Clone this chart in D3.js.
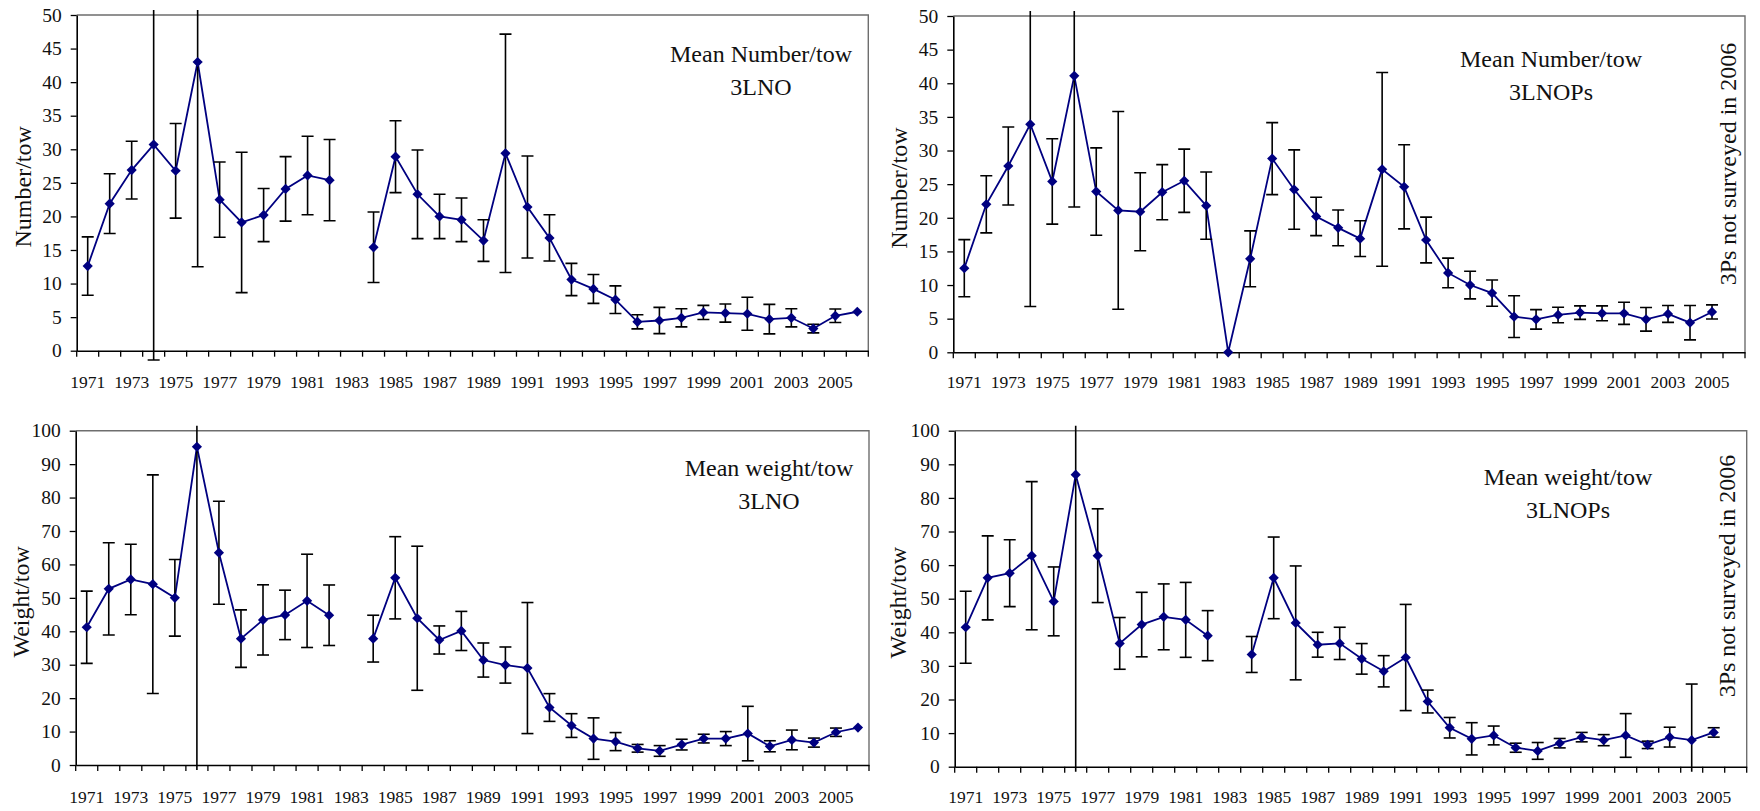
<!DOCTYPE html>
<html>
<head>
<meta charset="utf-8">
<script src="https://cdn.jsdelivr.net/npm/d3@7"></script>
<style>
body { margin: 0; background: #fff; }
</style>
</head>
<body>
<div id="chart"></div>
<script>
const years = [1971, 1972, 1973, 1974, 1975, 1976, 1977, 1978, 1979, 1980, 1981, 1982,
    1983, 1984, 1985, 1986, 1987, 1988, 1989, 1990, 1991, 1992, 1993, 1994,
    1995, 1996, 1997, 1998, 1999, 2000, 2001, 2002, 2003, 2004, 2005, 2006]

const xLabels = [1971, 1973, 1975, 1977, 1979, 1981, 1983, 1985, 1987, 1989,
    1991, 1993, 1995, 1997, 1999, 2001, 2003, 2005]

const yTicksNum = [0, 5, 10, 15, 20, 25, 30, 35, 40, 45, 50]
const yTicksWt = [0, 10, 20, 30, 40, 50, 60, 70, 80, 90, 100]

// mean number per tow, 3LNO
const numLNO = [12.6, 21.9, 26.9, 30.7, 26.8, 43.0, 22.5, 19.1, 20.2, 24.1, 26.1, 25.4,
    null, 15.4, 28.9, 23.3, 20.0, 19.5, 16.4, 29.4, 21.4, 16.8, 10.6, 9.2,
    7.6, 4.3, 4.5, 4.9, 5.7, 5.6, 5.5, 4.7, 4.9, 3.3, 5.2, 5.8]
const numLNOErr = [4.35, 4.45, 4.3, 32.1, 7.05, 30.5, 5.6, 10.45, 3.95, 4.8, 5.85, 6.05,
    null, 5.25, 5.35, 6.6, 3.3, 3.25, 3.1, 17.75, 7.6, 3.45, 2.4, 2.15,
    2.05, 1.05, 1.95, 1.35, 1.05, 1.35, 2.45, 2.2, 1.35, 0.65, 1.0, 0]

// mean number per tow, 3LNOPs
const numLNOPs = [12.5, 22.0, 27.7, 33.9, 25.4, 41.1, 23.9, 21.1, 20.9, 23.8, 25.5, 21.8,
    0, 13.9, 28.8, 24.2, 20.2, 18.5, 16.9, 27.2, 24.6, 16.7, 11.8, 10.0,
    8.8, 5.3, 4.9, 5.55, 5.9, 5.8, 5.8, 4.9, 5.7, 4.4, 6.0, null]
const numLNOPsErr = [4.25, 4.25, 5.8, 27.1, 6.35, 19.5, 6.5, 14.7, 5.8, 4.1, 4.7, 5.0,
    0, 4.15, 5.35, 5.9, 2.85, 2.65, 2.65, 14.4, 6.25, 3.4, 2.2, 2.05,
    1.95, 3.1, 1.45, 1.15, 1.0, 1.1, 1.65, 1.75, 1.25, 2.55, 1.05, null]

// mean weight per tow, 3LNO
const wtLNO = [41.2, 52.7, 55.5, 54.1, 50.0, 95.2, 63.5, 37.8, 43.4, 44.9, 49.1, 44.8,
    null, 37.8, 56.0, 43.9, 37.4, 40.1, 31.4, 29.9, 29.0, 17.2, 11.8, 7.9,
    7.0, 5.0, 4.2, 6.1, 7.9, 7.9, 9.4, 5.6, 7.5, 6.7, 9.8, 11.2]
const wtLNOErr = [10.8, 13.8, 10.55, 32.7, 11.45, 100, 15.4, 8.6, 10.5, 7.4, 13.95, 9.05,
    null, 7.0, 12.3, 21.55, 4.2, 5.85, 5.1, 5.4, 19.6, 4.15, 3.55, 6.2,
    2.7, 1.15, 1.6, 1.6, 1.3, 2.1, 8.15, 1.65, 2.95, 1.35, 1.25, 0]

// mean weight per tow, 3LNOPs
const wtLNOPs = [41.5, 56.2, 57.6, 62.8, 49.2, 86.9, 62.8, 36.7, 42.3, 44.6, 43.7, 39.0,
    null, 33.4, 56.2, 42.8, 36.3, 36.7, 32.1, 28.4, 32.5, 19.4, 11.6, 8.3,
    9.3, 5.65, 4.7, 7.0, 8.8, 7.9, 9.3, 6.5, 8.8, 7.9, 10.2, null]
const wtLNOPsErr = [10.7, 12.5, 9.95, 22.05, 10.25, 100, 13.95, 7.7, 9.6, 9.8, 11.15, 7.45,
    null, 5.35, 12.15, 16.95, 3.7, 4.8, 4.55, 4.65, 15.8, 3.4, 3.05, 4.8,
    2.8, 1.35, 2.5, 1.4, 1.4, 1.65, 6.5, 1.1, 2.95, 16.7, 1.4, null]

const note = "3Ps not surveyed in 2006"

const width = 1760
const height = 811
const navy = "#000080"
const serif = "'Liberation Serif', 'Times New Roman', 'DejaVu Serif', serif"

const panels = [
    {values: numLNO, errs: numLNOErr, yTicks: yTicksNum, ylab: "Number/tow", title: ["Mean Number/tow", "3LNO"],
        left: 76.7, right: 868.3, top: 15, bottom: 350.7, ylabX: 31, titleX: 761, titleY: 62, clipPad: 10, labelGap: 37, note: false},
    {values: numLNOPs, errs: numLNOPsErr, yTicks: yTicksNum, ylab: "Number/tow", title: ["Mean Number/tow", "3LNOPs"],
        left: 953.3, right: 1745, top: 16, bottom: 352.3, ylabX: 907, titleX: 1551, titleY: 67, clipPad: 10, labelGap: 36, note: true, noteX: 1736, noteY: 164},
    {values: wtLNO, errs: wtLNOErr, yTicks: yTicksWt, ylab: "Weight/tow", title: ["Mean weight/tow", "3LNO"],
        left: 75.7, right: 869, top: 430.7, bottom: 765, ylabX: 29, titleX: 769, titleY: 476, clipPad: 5, labelGap: 38, note: false},
    {values: wtLNOPs, errs: wtLNOPsErr, yTicks: yTicksWt, ylab: "Weight/tow", title: ["Mean weight/tow", "3LNOPs"],
        left: 954.7, right: 1746.7, top: 430.7, bottom: 766.7, ylabX: 906, titleX: 1568, titleY: 485, clipPad: 5, labelGap: 36, note: true, noteX: 1735, noteY: 576}
]

const svg = d3.select("#chart").append("svg")
    .attr("width", width)
    .attr("height", height)
    .attr("font-family", serif)

svg.append("rect").attr("width", width).attr("height", height).attr("fill", "#fff")

function drawPanel(p, idx) {
    const x = d3.scaleBand().domain(years).range([p.left, p.right])
    const y = d3.scaleLinear().domain([0, d3.max(p.yTicks)]).range([p.bottom, p.top])
    const cx = d => x(d.year) + x.bandwidth() / 2
    const pts = years.map((yr, i) => ({year: yr, v: p.values[i], e: p.errs[i]}))

    const g = svg.append("g")

    // plot area border (top and right)
    g.append("path")
        .attr("d", `M${p.left},${p.top}H${p.right}V${p.bottom}`)
        .attr("fill", "none")
        .attr("stroke", "#6e6e6e")
        .attr("stroke-width", 1.4)

    // y axis
    const ya = g.append("g")
        .attr("transform", `translate(${p.left},0)`)
        .call(d3.axisLeft(y).tickValues(p.yTicks).tickSize(6).tickPadding(9).tickSizeOuter(0))
        .attr("font-size", 19.5)
        .attr("font-family", serif)
    ya.select(".domain").attr("stroke", "#000").attr("stroke-width", 1.6)
    ya.selectAll(".tick line").attr("stroke", "#000").attr("stroke-width", 1.3)
    ya.selectAll("text").attr("fill", "#111")

    // x axis: labels under every second year, ticks on category edges
    const xa = g.append("g")
        .attr("transform", `translate(0,${p.bottom})`)
        .call(d3.axisBottom(x).tickValues(xLabels).tickSize(0).tickPadding(p.labelGap - 12.4).tickSizeOuter(0))
        .attr("font-size", 17.5)
        .attr("font-family", serif)
    xa.select(".domain").attr("stroke", "#000").attr("stroke-width", 1.6)
    xa.selectAll("text").attr("fill", "#111")

    const edges = years.map(yr => x(yr)).concat([x.range()[1]])
    g.append("g").selectAll("line")
        .data(edges)
        .join("line")
        .attr("x1", d => d).attr("x2", d => d)
        .attr("y1", p.bottom).attr("y2", p.bottom + 6)
        .attr("stroke", "#000")
        .attr("stroke-width", 1.3)

    // y label
    g.append("text")
        .attr("transform", `translate(${p.ylabX},${(p.top + p.bottom) / 2 + 4}) rotate(-90)`)
        .attr("text-anchor", "middle")
        .attr("font-family", serif)
        .attr("font-size", 24)
        .attr("fill", "#111")
        .text(p.ylab)

    // title
    const t = g.append("text")
        .attr("text-anchor", "middle")
        .attr("font-family", serif)
        .attr("font-size", 24)
        .attr("fill", "#111")
    t.selectAll("tspan")
        .data(p.title)
        .join("tspan")
        .attr("x", p.titleX)
        .attr("y", (d, i) => p.titleY + i * 33)
        .text(d => d)

    if (p.note) {
        g.append("text")
            .attr("transform", `translate(${p.noteX},${p.noteY}) rotate(-90)`)
            .attr("text-anchor", "middle")
            .attr("font-family", serif)
            .attr("font-size", 24)
            .attr("fill", "#111")
            .text(note)
    }

    // series line
    const line = d3.line()
        .defined(d => d.v != null)
        .x(cx)
        .y(d => y(d.v))

    g.append("path")
        .datum(pts)
        .attr("fill", "none")
        .attr("stroke", navy)
        .attr("stroke-width", 1.8)
        .attr("d", line)

    // error bars, clipped a little outside the plot area
    const clipId = "clip" + idx
    svg.append("clipPath").attr("id", clipId)
        .append("rect")
        .attr("x", p.left - 20)
        .attr("y", p.top - 5)
        .attr("width", p.right - p.left + 40)
        .attr("height", p.bottom - p.top + 5 + p.clipPad)

    const eb = g.append("g")
        .attr("clip-path", `url(#${clipId})`)
        .attr("stroke", "#000")
        .attr("stroke-width", 1.6)
        .selectAll("g")
        .data(pts.filter(d => d.v != null && d.e > 0))
        .join("g")

    eb.append("line")
        .attr("x1", cx).attr("x2", cx)
        .attr("y1", d => y(d.v + d.e))
        .attr("y2", d => y(d.v - d.e))
    eb.append("line")
        .attr("x1", d => cx(d) - 6).attr("x2", d => cx(d) + 6)
        .attr("y1", d => y(d.v + d.e)).attr("y2", d => y(d.v + d.e))
    eb.append("line")
        .attr("x1", d => cx(d) - 6).attr("x2", d => cx(d) + 6)
        .attr("y1", d => y(d.v - d.e)).attr("y2", d => y(d.v - d.e))

    // diamond markers
    g.append("g").selectAll("path")
        .data(pts.filter(d => d.v != null))
        .join("path")
        .attr("d", d3.symbol(d3.symbolSquare, 52))
        .attr("transform", d => `translate(${cx(d)},${y(d.v)}) rotate(45)`)
        .attr("fill", navy)
}

panels.forEach(drawPanel)
</script>
</body>
</html>
